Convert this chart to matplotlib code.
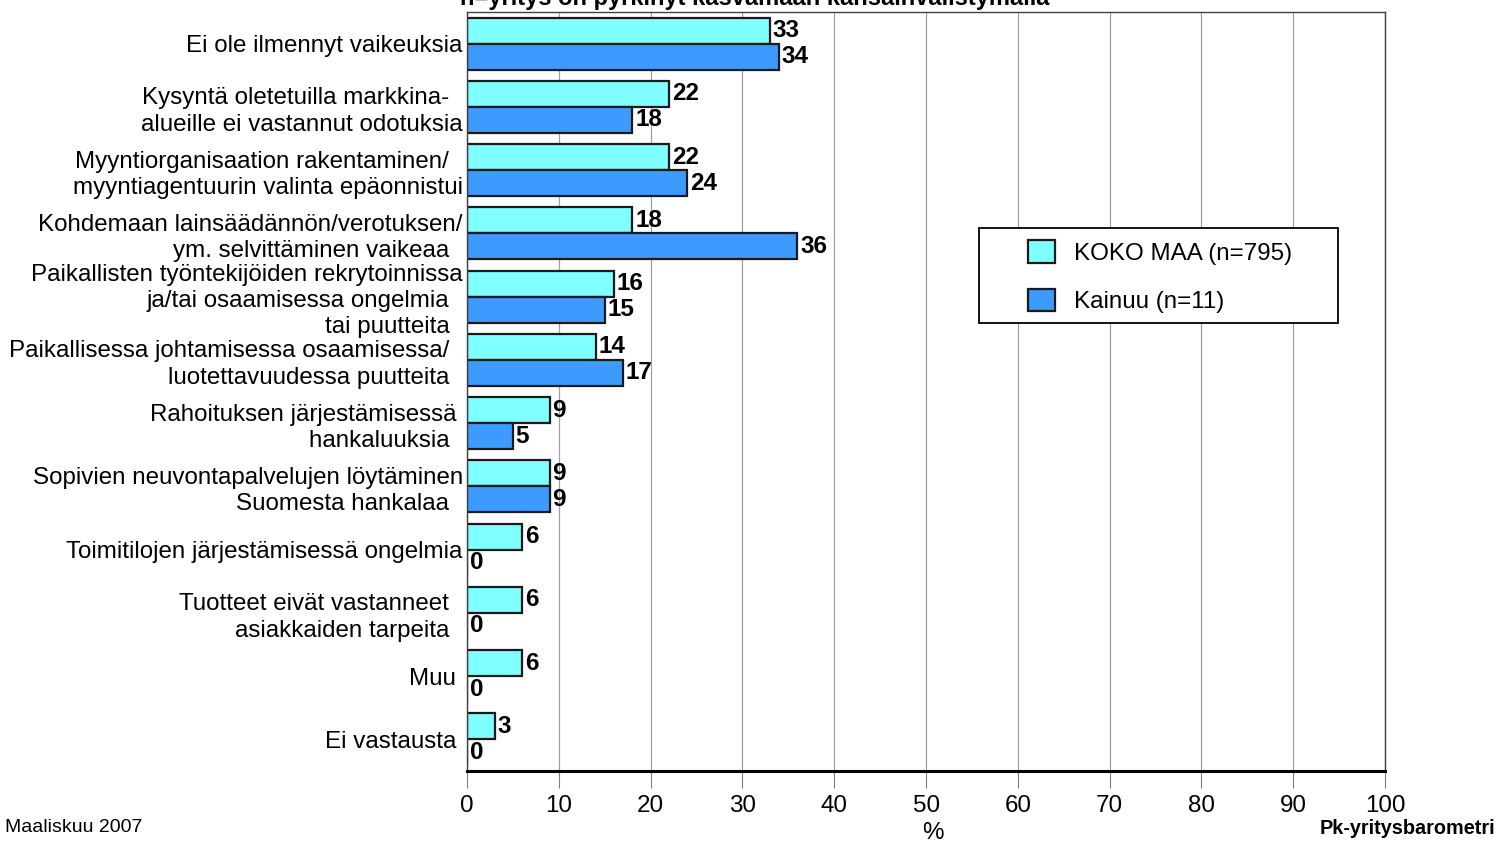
import matplotlib
matplotlib.use("Agg")
import matplotlib.pyplot as plt
from matplotlib.patches import Rectangle
from matplotlib.legend_handler import HandlerPatch
import numpy as np

plt.rcParams['font.family'] = ['Liberation Sans', 'DejaVu Sans']

categories = [
    "Ei ole ilmennyt vaikeuksia",
    "Kysyntä oletetuilla markkina-  \nalueille ei vastannut odotuksia",
    "Myyntiorganisaation rakentaminen/  \nmyyntiagentuurin valinta epäonnistui",
    "Kohdemaan lainsäädännön/verotuksen/\nym. selvittäminen vaikeaa  ",
    "Paikallisten työntekijöiden rekrytoinnissa\nja/tai osaamisessa ongelmia  \ntai puutteita  ",
    "Paikallisessa johtamisessa osaamisessa/  \nluotettavuudessa puutteita  ",
    "Rahoituksen järjestämisessä \nhankaluuksia  ",
    "Sopivien neuvontapalvelujen löytäminen\nSuomesta hankalaa  ",
    "Toimitilojen järjestämisessä ongelmia",
    "Tuotteet eivät vastanneet  \nasiakkaiden tarpeita  ",
    "Muu ",
    "Ei vastausta ",
]
koko_maa = [33, 22, 22, 18, 16, 14, 9, 9, 6, 6, 6, 3]
kainuu = [34, 18, 24, 36, 15, 17, 5, 9, 0, 0, 0, 0]
series_names = ["KOKO MAA (n=795)", "Kainuu (n=11)"]
xticks = list(range(0, 101, 10))

c1 = '#80ffff'
c2 = '#3d9bff'
edge = '#1a1a1a'
fs = 17.4

fig = plt.figure(figsize=(15.09, 8.43), dpi=100)
ax = fig.add_axes([467/1509, 72/843, 918/1509, 759/843])

y = np.arange(len(categories))
h = 0.41
b1 = ax.barh(y - h/2, koko_maa, height=h, color=c1, edgecolor=edge, linewidth=1.6, zorder=2, label=series_names[0])
b2 = ax.barh(y + h/2, kainuu, height=h, color=c2, edgecolor=edge, linewidth=1.6, zorder=2, label=series_names[1])
for b in (b1, b2):
    ax.bar_label(b, padding=2, fontsize=17.5, fontweight='bold', zorder=3)

ax.set_ylim(len(categories) - 0.5, -0.5)
ax.set_xlim(0, 100)
ax.set_xticks(xticks)
ax.set_xticklabels([str(t) for t in xticks], fontsize=fs)
ax.tick_params(axis='x', direction='out', length=12, width=0.8, color='#808080', pad=5)
ax.set_yticks(y)
ax.set_yticklabels(categories, fontsize=fs, linespacing=1.25)
ax.tick_params(axis='y', length=0, pad=3)
ax.yaxis.set_zorder(0.5)

ax.grid(axis='x', color='#a0a0a0', linewidth=0.9, zorder=0)
ax.set_axisbelow(True)
for s in ('top', 'right', 'left'):
    ax.spines[s].set_color('#404040')
    ax.spines[s].set_linewidth(1.0)
ax.spines['bottom'].set_color('black')
ax.spines['bottom'].set_linewidth(2.2)

ax.set_xlabel('%', fontsize=fs)
ax.xaxis.set_label_coords(0.5076, -0.067)

# legend box
ax.add_patch(Rectangle((0.5577, 0.5903), 0.3911, 0.1252, transform=ax.transAxes,
                       facecolor='white', edgecolor='black', linewidth=1.3, zorder=4))

def sq(legend, orig_handle, xdescent, ydescent, width, height, fontsize):
    s = 26 / 100 * 72  # points
    return Rectangle((-xdescent, -ydescent + height/2 - s/2), s, s)

leg = ax.legend(loc='upper left', bbox_to_anchor=(0.6111, 0.699), frameon=False,
                fontsize=fs, borderpad=0, borderaxespad=0, handlelength=1.1,
                handleheight=1.05, handletextpad=0.8, labelspacing=0.98,
                handler_map={Rectangle: HandlerPatch(patch_func=sq)})
leg.set_zorder(5)
for p in leg.get_patches():
    p.set_edgecolor(edge)
    p.set_linewidth(1.6)

fig.text(5/1509, 1 - 828/843, 'Maaliskuu 2007', fontsize=14, va='center', ha='left')
fig.text(1495/1509, 1 - 828/843, 'Pk-yritysbarometri', fontsize=14.3, fontweight='bold', va='center', ha='right')
fig.text(755/1509, 1 - 5/843, 'n=yritys on pyrkinyt kasvamaan kansainvälistymällä', fontsize=17,
         fontweight='bold', va='baseline', ha='center')

fig.savefig('out.png', dpi=100)
